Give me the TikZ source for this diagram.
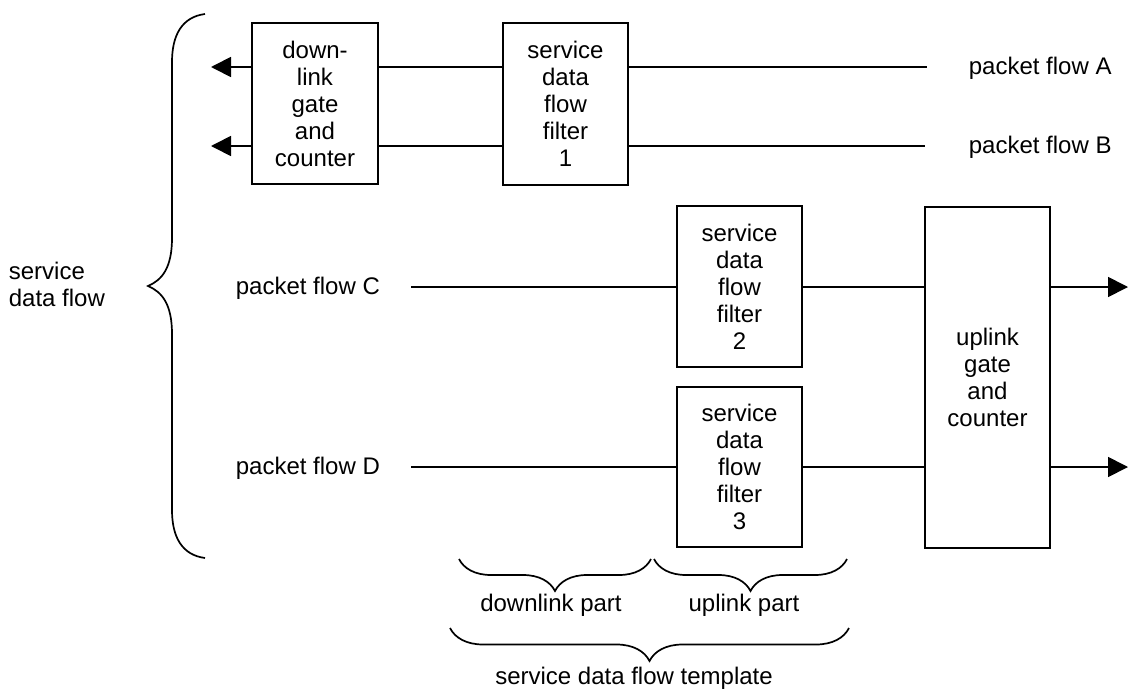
\documentclass[tikz,border=0pt]{standalone}
\usepackage{fontspec}
\setmainfont{Liberation Sans}
\usetikzlibrary{arrows.meta,decorations.pathreplacing}
\begin{document}
\begin{tikzpicture}[x=1pt,y=-1pt,
  line width=1.7pt,
  every node/.style={font=\fontsize{24}{27}\selectfont, inner sep=0pt},
  blockbox/.style={draw, align=center, minimum width=#1},
  flowline/.style={line width=1.7pt},
  arrowline/.style={line width=1.7pt,-{Triangle[length=20pt,width=20pt]}},
  bracedec/.style={decorate, decoration={brace, amplitude=#1}, line width=1.7pt},
  lbl/.style={anchor=west}]
\useasboundingbox (0,0) rectangle (1129,688);

% boxes
\node[blockbox=126pt, minimum height=161pt] (dl) at (315,103.5) {down-\\link\\gate\\and\\counter};
\node[blockbox=125pt, minimum height=162pt] (f1) at (565.5,104) {service\\data\\flow\\filter\\1};
\node[blockbox=125pt, minimum height=161pt] (f2) at (739.5,286.5) {service\\data\\flow\\filter\\2};
\node[blockbox=125pt, minimum height=160pt] (f3) at (739.5,467) {service\\data\\flow\\filter\\3};
\node[blockbox=125pt, minimum height=341pt] (ul) at (987.5,377.5) {uplink\\gate\\and\\counter};

% labels
\node[lbl] (pA) at (968,68) {packet flow A};
\node[lbl] (pB) at (968,147) {packet flow B};
\node[lbl] (pC) at (235,288) {packet flow C};
\node[lbl] (pD) at (235,468) {packet flow D};
\node[lbl, align=left] (sdf) at (8,284) {service\\data flow};
\node (dlp) at (551,605) {downlink part};
\node (ulp) at (744,605) {uplink part};
\node (tpl) at (634,678) {service data flow template};

% coordinates for free ends
\coordinate (eA) at (927,67);
\coordinate (eB) at (925,146);
\coordinate (tA) at (211,67);
\coordinate (tB) at (211,146);
\coordinate (sC) at (411,287);
\coordinate (sD) at (411,467);
\coordinate (tC) at (1128,287);
\coordinate (tD) at (1128,467);

% downlink flows
\draw[flowline] (f1.east |- eA) -- (eA);
\draw[flowline] (f1.east |- eB) -- (eB);
\draw[flowline] (f1.west |- eA) -- (dl.east |- eA);
\draw[flowline] (f1.west |- eB) -- (dl.east |- eB);
\draw[arrowline] (dl.west |- tA) -- (tA);
\draw[arrowline] (dl.west |- tB) -- (tB);

% uplink flows
\draw[flowline] (sC) -- (f2.west |- sC);
\draw[flowline] (sD) -- (f3.west |- sD);
\draw[flowline] (f2.east |- sC) -- (ul.west |- sC);
\draw[flowline] (f3.east |- sD) -- (ul.west |- sD);
\draw[arrowline] (ul.east |- tC) -- (tC);
\draw[arrowline] (ul.east |- tD) -- (tD);

% braces
\coordinate (bL1) at (205,558);
\coordinate (bL2) at (205,14);
\draw (bL2) .. controls (182,17) and (172,35) .. (172,62) -- (172,238)
  .. controls (172,268) and (162,280) .. (148,286)
  .. controls (162,292) and (172,304) .. (172,334) -- (172,510)
  .. controls (172,537) and (182,555) .. (bL1);
\coordinate (d1) at (459,559);
\coordinate (d2) at (651,559);
\coordinate (u1) at (654,559);
\coordinate (u2) at (847,559);
\coordinate (t1) at (450,628);
\coordinate (t2) at (849,628);
\draw[bracedec=32pt] (d2) -- (d1);
\draw[bracedec=32pt] (u2) -- (u1);
\draw[bracedec=33pt] (t2) -- (t1);
\end{tikzpicture}
\end{document}
